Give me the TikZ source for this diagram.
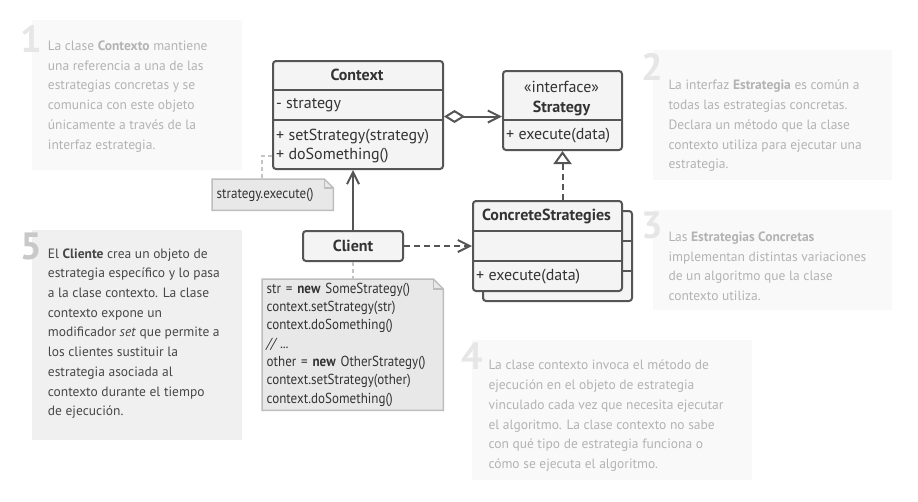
\documentclass[tikz,border=0pt]{standalone}
\usepackage{fontspec}
\setmainfont{PT Sans}
\newfontfamily\codefont{PT Sans}[FakeStretch=0.9]
\usetikzlibrary{arrows.meta,backgrounds,positioning}

\definecolor{cUmlLine}{HTML}{555555}
\definecolor{cUmlFill}{HTML}{F4F4F4}
\definecolor{cUmlText}{HTML}{333333}
\definecolor{cNoteFill}{HTML}{E8E8E8}
\definecolor{cNoteLine}{HTML}{BDBDBD}
\definecolor{cNoteLink}{HTML}{C4C4C4}
\definecolor{cDescFill}{HTML}{F9F9F9}
\definecolor{cDescText}{HTML}{B3B3B3}
\definecolor{cDescNum}{HTML}{E6E6E6}
\definecolor{cClientFill}{HTML}{F0F0F0}
\definecolor{cClientText}{HTML}{474747}
\definecolor{cClientNum}{HTML}{C8C8C8}

\tikzset{
  descbox/.style={anchor=north west, fill=cDescFill, inner sep=0pt},
  desclabel/.style={anchor=north west, inner sep=0pt, align=left, text=cDescText,
    font=\fontsize{13.5}{19.7}\selectfont},
  descnum/.style={anchor=north west, inner sep=0pt, text=cDescNum,
    font=\fontsize{38}{38}\selectfont\bfseries},
  classbox/.style={anchor=north west, draw=cUmlLine, fill=cUmlFill, line width=2pt,
    rounded corners=3pt, inner sep=0pt},
  divider/.style={draw=cUmlLine, line width=2pt},
  classname/.style={inner sep=0pt, text=cUmlText, font=\fontsize{16}{19}\selectfont\bfseries},
  member/.style={anchor=west, inner sep=0pt, text=cUmlText, font=\fontsize{16}{19}\selectfont},
  notebox/.style={anchor=north west, inner xsep=4.5pt, inner ysep=0pt, align=left,
    text=cUmlText, font=\codefont\fontsize{14.5}{18.3}\selectfont},
  noteedge/.style={draw=cNoteLine, fill=cNoteFill, line width=1.5pt},
  notelink/.style={draw=cNoteLink, line width=1.5pt, dash pattern=on 4pt off 3pt},
  link/.style={draw=cUmlLine, line width=2pt},
  dep/.style={link, dash pattern=on 6pt off 4pt},
}

\begin{document}
\begin{tikzpicture}[x=1pt, y=-1pt, >={Straight Barb[length=12pt, width=12pt]}]
  \useasboundingbox (0,0) rectangle (918,501);

  % explanations
  \node[descbox, minimum width=210pt, minimum height=149.3pt] (box1) at (31.7,20) {};
  \node[descnum] (num1) at (20,25) {1};
  \node[desclabel] (txt1) at (47.7,40.7)
    {La clase \textbf{Contexto} mantiene\\una referencia a una de las\\estrategias concretas y se\\comunica con este objeto\\únicamente a través de la\\interfaz estrategia.};

  \node[descbox, minimum width=239.4pt, minimum height=129.3pt] (box2) at (652.3,50) {};
  \node[descnum] (num2) at (641,53) {2};
  \node[desclabel] (txt2) at (668.3,80)
    {La interfaz \textbf{Estrategia} es común a\\todas las estrategias concretas.\\Declara un método que la clase\\contexto utiliza para ejecutar una\\estrategia.};

  \node[descbox, minimum width=239.4pt, minimum height=100pt] (box3) at (652.3,210) {};
  \node[descnum] (num3) at (641,212) {3};
  \node[desclabel] (txt3) at (668.3,231.7)
    {Las \textbf{Estrategias Concretas}\\implementan distintas variaciones\\de un algoritmo que la clase\\contexto utiliza.};

  \node[descbox, minimum width=280pt, minimum height=140pt] (box4) at (471.7,340) {};
  \node[descnum] (num4) at (461,343) {4};
  \node[desclabel] (txt4) at (488.3,360)
    {La clase contexto invoca el método de\\ejecución en el objeto de estrategia\\vinculado cada vez que necesita ejecutar\\el algoritmo. La clase contexto no sabe\\con qué tipo de estrategia funciona o\\cómo se ejecuta el algoritmo.};

  \node[descbox, fill=cClientFill, minimum width=210pt, minimum height=210pt] (box5) at (31.7,230) {};
  \node[descnum, text=cClientNum] (num5) at (20,233) {5};
  \node[desclabel, text=cClientText] (txt5) at (47.7,248.3)
    {El \textbf{Cliente} crea un objeto de\\estrategia específico y lo pasa\\a la clase contexto. La clase\\contexto expone un\\modificador \textit{set} que permite a\\los clientes sustituir la\\estrategia asociada al\\contexto durante el tiempo\\de ejecución.};

  % classes
  \node[classbox, minimum width=170pt, minimum height=108pt] (context) at (272,60) {};
  \draw[divider] (context.west |- 0,90) -- (context.east |- 0,90);
  \draw[divider] (context.west |- 0,120) -- (context.east |- 0,120);
  \node[classname] (ctxname) at (357,75) {Context};
  \node[member] (ctxfield) at (276,105.5) {- strategy};
  \node[member] (ctxset) at (276,137) {+ setStrategy(strategy)};
  \node[member] (ctxdo) at (276,156) {+ doSomething()};

  \node[classbox, minimum width=119pt, minimum height=79pt] (strategy) at (502,70) {};
  \draw[divider] (strategy.west |- 0,120) -- (strategy.east |- 0,120);
  \node[classname, font=\fontsize{16}{19}\selectfont] (stereo) at (561.5,87) {«interface»};
  \node[classname] (strname) at (561.5,108) {Strategy};
  \node[member] (strexec) at (506,136) {+ execute(data)};

  \node[classbox, minimum width=149pt, minimum height=90pt] (concreteback) at (482,210) {};
  \draw[divider] (concreteback.west |- 0,240.7) -- (concreteback.east |- 0,240.7);
  \draw[divider] (concreteback.west |- 0,270.7) -- (concreteback.east |- 0,270.7);
  \node[classbox, minimum width=149pt, minimum height=90pt] (concrete) at (472,200) {};
  \draw[divider] (concrete.west |- 0,230.7) -- (concrete.east |- 0,230.7);
  \draw[divider] (concrete.west |- 0,260.7) -- (concrete.east |- 0,260.7);
  \node[classname] (conname) at (546.5,216) {ConcreteStrategies};
  \node[member] (conexec) at (476,276.5) {+ execute(data)};

  \node[classbox, minimum width=100pt, minimum height=30pt] (client) at (302,230) {};
  \node[classname] (cliname) at (client.center) {Client};

  % notes
  \node[notebox, text width=112pt, minimum height=31pt] (execnote) at (212,179) {strategy.execute()};
  \node[notebox, text width=172pt, minimum height=131pt] (code) at (262,279)
    {str = \textbf{new} SomeStrategy()\\context.setStrategy(str)\\context.doSomething()\\\textit{// ...}\\other = \textbf{new} OtherStrategy()\\context.setStrategy(other)\\context.doSomething()};
  \begin{scope}[on background layer]
    \fill[white] (0,0) rectangle (918,501);
    \filldraw[noteedge] (execnote.north west) -- ([xshift=-9pt]execnote.north east)
      -- ([yshift=-9pt]execnote.north east) -- (execnote.south east) -- (execnote.south west) -- cycle;
    \draw[noteedge, fill=none] ([xshift=-9pt]execnote.north east) |- ([yshift=-9pt]execnote.north east);
    \filldraw[noteedge] (code.north west) -- ([xshift=-10pt]code.north east)
      -- ([yshift=-10pt]code.north east) -- (code.south east) -- (code.south west) -- cycle;
    \draw[noteedge, fill=none] ([xshift=-10pt]code.north east) |- ([yshift=-10pt]code.north east);
  \end{scope}

  % connectors
  \coordinate (aggend) at ([yshift=-6pt]strategy.west);
  \draw[link, {Diamond[length=21pt, width=13pt, fill=white]}->] (aggend -| context.east) -- (aggend);
  \draw[link, ->] (client.north) -- (client.north |- context.south);
  \draw[dep, ->] (client.east) -- (client.east -| concrete.west);
  \draw[dep, -{Triangle[length=13pt, width=18pt, fill=white]}] (strategy.south |- concrete.north) -- (strategy.south);
  \draw[notelink] (client.south) -- (client.south |- code.north);
  \draw[notelink] (context.west |- ctxdo) -| ([xshift=-10.5pt]execnote.north);
\end{tikzpicture}
\end{document}
